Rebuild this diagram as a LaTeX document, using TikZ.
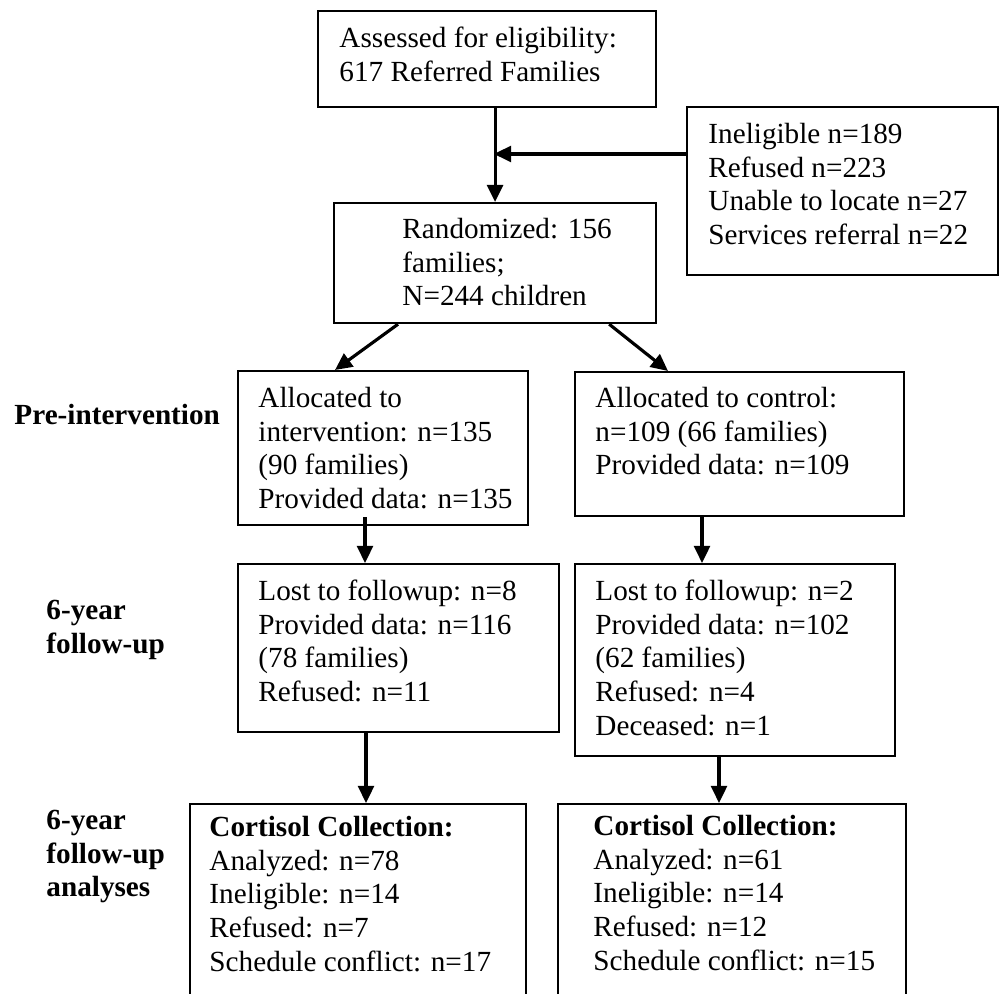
\documentclass[tikz,border=0pt]{standalone}
\usepackage{fontspec}
\setmainfont{Liberation Serif}
\usetikzlibrary{arrows.meta,calc}
\newcommand\fbx[5]{\node[boxst, minimum width={(#4-#2)*0.411pt}, minimum height={(#5-#3)*0.411pt}] (#1) at (#2,#3) {};}
\newcommand\ftx[4]{\node[txt] (#1) at (#2,#3-23.6) {\strut #4};}
\newcommand\flb[4]{\node[lbl] (#1) at (#2,#3-23.6) {\strut #4};}
\begin{document}
\begin{tikzpicture}[x=0.411pt,y=-0.411pt,
  boxst/.style={draw=black, line width=0.9pt, inner sep=0pt, anchor=north west},
  txt/.style={inner sep=0pt, anchor=north west, align=left, font=\fontsize{12}{13.85}\selectfont},
  lbl/.style={inner sep=0pt, anchor=north west, align=left, font=\fontsize{12}{13.85}\selectfont\bfseries},
  arr/.style={line width=1.3pt, -{Triangle[length=7pt,width=6.5pt]}}]
\useasboundingbox (0,0) rectangle (1000,994);
\clip (0,0) rectangle (1000,994);
% boxes
\fbx{b1}{317}{10}{655}{106}
\fbx{b2}{686}{106}{997}{274}
\fbx{b3}{333}{202}{655}{322}
\fbx{b4}{237}{370}{527}{524}
\fbx{b5}{574}{371}{903}{515}
\fbx{b6}{237}{563}{558}{731}
\fbx{b7}{574}{563}{894}{755}
\fbx{b8}{189}{803}{525}{1004}
\fbx{b9}{557}{803}{905}{1004}
% texts
\ftx{t1}{339}{47}{Assessed for eligibility:\\617 Referred Families}
\ftx{t2}{708}{143}{Ineligible n=189\\Refused n=223\\Unable to locate n=27\\Services referral n=22}
\ftx{t3}{402}{238}{Randomized: 156\\families;\\N=244 children}
\ftx{t4}{258}{407}{Allocated to\\intervention: n=135\\(90 families)\\Provided data: n=135}
\ftx{t5}{595}{407}{Allocated to control:\\n=109 (66 families)\\Provided data: n=109}
\ftx{t6}{258}{600}{Lost to followup: n=8\\Provided data: n=116\\(78 families)\\Refused: n=11}
\ftx{t7}{595}{600}{Lost to followup: n=2\\Provided data: n=102\\(62 families)\\Refused: n=4\\Deceased: n=1}
\ftx{t8}{209}{836}{\textbf{Cortisol Collection:}\\Analyzed: n=78\\Ineligible: n=14\\Refused: n=7\\Schedule conflict: n=17}
\ftx{t9}{593}{835}{\textbf{Cortisol Collection:}\\Analyzed: n=61\\Ineligible: n=14\\Refused: n=12\\Schedule conflict: n=15}
% side labels
\flb{l1}{14}{424}{Pre-intervention}
\flb{l2}{46}{619}{6-year\\follow-up}
\flb{l3}{46}{829}{6-year\\follow-up\\analyses}
% connectors
\coordinate (j) at (494,154);
\draw[arr] (b3.north |- b1.south) -- (b3.north);
\draw[arr] (b2.west |- j) -- (j);
\draw[arr] ($(b3.south west)+(65,0)$) -- ($(b4.north west)+(98,0)$);
\draw[arr] ($(b3.south east)+(-48,0)$) -- ($(b5.north west)+(94,0)$);
\draw[arr] ($(b4.south west)+(128,-9)$) -- ($(b6.north west)+(128,0)$);
\draw[arr] ($(b5.south west)+(128,0)$) -- ($(b7.north west)+(128,0)$);
\draw[arr] ($(b6.south west)+(129,0)$) -- ($(b8.north west)+(177,0)$);
\draw[arr] ($(b7.south west)+(145,0)$) -- ($(b9.north west)+(162,0)$);
\end{tikzpicture}
\end{document}
